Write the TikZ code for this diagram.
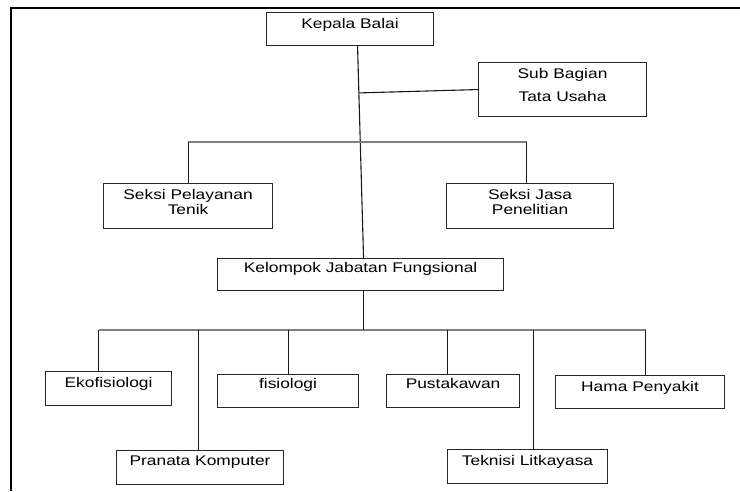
\documentclass[tikz,border=0pt]{standalone}
\usepackage{fontspec}
\newfontfamily\orgfont{Liberation Sans}[FakeStretch=1.24]
\usetikzlibrary{positioning, calc}

\begin{document}
\begin{tikzpicture}[x=1pt, y=-1pt,
  every node/.style={font=\orgfont\fontsize{14}{15}\selectfont, text=black},
  unit/.style={draw=black!85, line width=1.1pt, inner sep=0pt, anchor=north west,
    align=center},
  link/.style={black!90, line width=1.1pt},
  bus/.style={black!50, line width=1.1pt}]
  \useasboundingbox (0,0) rectangle (740,491);
  \draw[line width=2pt] (11,491) -- (11,8) -- (740,8);

  \node[unit, minimum width=167pt, text height=16pt, text depth=17pt] (kepala) at (266,12) {Kepala Balai};
  \node[unit, minimum width=168pt, text height=39pt, text depth=15pt] (subbag) at (478,62) {Sub Bagian\\[8pt]Tata Usaha};
  \node[unit, minimum width=169pt, text height=31pt, text depth=14pt] (pelayanan) at (103,183) {Seksi Pelayanan\\Tenik};
  \node[unit, minimum width=167pt, text height=31pt, text depth=14pt] (jasa) at (446,183) {Seksi Jasa\\Penelitian};
  \node[unit, minimum width=286pt, text height=14pt, text depth=18pt] (kelompok) at (217,258) {Kelompok Jabatan Fungsional};

  \node[unit, minimum width=126pt, text height=16pt, text depth=18pt] (eko) at (45,371) {Ekofisiologi};
  \node[unit, minimum width=141pt, text height=14pt, text depth=19pt] (fisio) at (217,374) {fisiologi};
  \node[unit, minimum width=133pt, text height=14pt, text depth=19pt] (pusta) at (386,374) {Pustakawan};
  \node[unit, minimum width=169pt, text height=16pt, text depth=17pt] (hama) at (555,375) {Hama Penyakit};
  \node[unit, minimum width=167pt, text height=15pt, text depth=19pt] (pranata) at (116,450) {Pranata Komputer};
  \node[unit, minimum width=160pt, text height=16pt, text depth=18pt] (teknisi) at (447,449) {Teknisi Litkayasa};

  % trunk from the head down to the functional group
  \coordinate (trunktop) at ([xshift=7.5pt]kepala.south);
  \coordinate (trunkbot) at ([xshift=3pt]kelompok.north);
  \draw[link] (trunktop) -- (trunkbot);
  \draw[link] (subbag.west) -- ($(trunktop)!(subbag.west)!(trunkbot)$);

  % sections
  \coordinate (seksirow) at (0,142);
  \coordinate (jasatop) at ([xshift=-3.5pt]jasa.north);
  \draw[bus] (pelayanan.north |- seksirow) -- (jasatop |- seksirow);
  \draw[link] (pelayanan.north) -- (pelayanan.north |- seksirow);
  \draw[link] (jasatop) -- (jasatop |- seksirow);

  % functional posts
  \coordinate (busrow) at (0,330);
  \coordinate (kelfoot) at ([xshift=3pt]kelompok.south);
  \coordinate (ekotop) at ([xshift=-10pt]eko.north);
  \coordinate (pranatatop) at ([xshift=-1.5pt]pranata.north);
  \coordinate (pustatop) at ([xshift=-5.5pt]pusta.north);
  \coordinate (teknisitop) at ([xshift=6pt]teknisi.north);
  \coordinate (hamatop) at ([xshift=5.5pt]hama.north);
  \draw[bus] (ekotop |- busrow) -- (hamatop |- busrow);
  \draw[link] (kelfoot) -- (kelfoot |- busrow);
  \draw[link] (ekotop) -- (ekotop |- busrow);
  \draw[link] (pranatatop) -- (pranatatop |- busrow);
  \draw[link] (fisio.north) -- (fisio.north |- busrow);
  \draw[link] (pustatop) -- (pustatop |- busrow);
  \draw[link] (teknisitop) -- (teknisitop |- busrow);
  \draw[link] (hamatop) -- (hamatop |- busrow);
\end{tikzpicture}
\end{document}
